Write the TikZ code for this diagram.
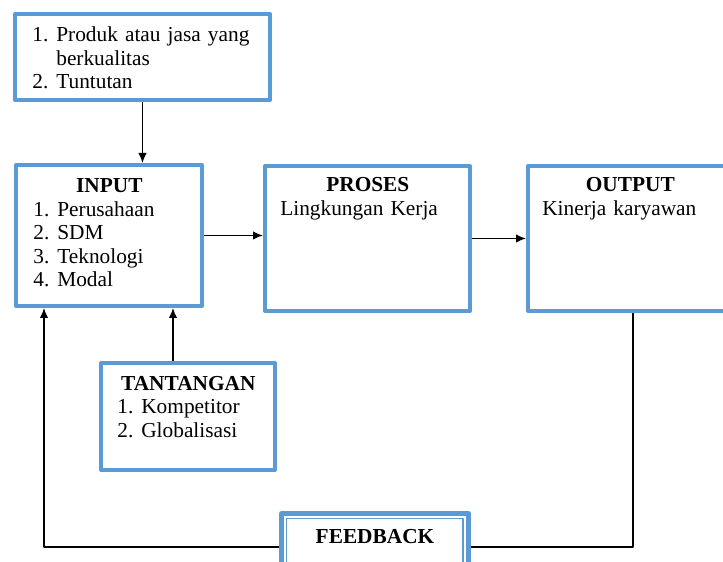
\documentclass[tikz,border=0pt]{standalone}
\usepackage{fontspec}
\setmainfont{Liberation Serif}
\usetikzlibrary{positioning,calc,arrows.meta}
\definecolor{biru}{RGB}{91,155,213}
\tikzset{kotak/.style={draw=biru,line width=2.4pt},
teks/.style={anchor=base west,inner sep=0pt,align=left}}
\newcommand{\no}[1]{\makebox[14.4pt][l]{#1}}
\begin{document}
\begin{tikzpicture}[x=0.6pt,y=-0.6pt,>={Latex[length=6pt,width=5pt]},font=\fontsize{12.8}{14.1}\selectfont,line join=round]
\useasboundingbox (0,0) rectangle (723,562);
\clip (0,0) rectangle (723,562);
% kotak
\node[kotak,minimum width=153pt,minimum height=51.6pt] (tuntut) at (142.5,57) {};
\node[kotak,minimum width=111.6pt,minimum height=84.6pt] (input) at (109,235.5) {};
\node[kotak,minimum width=123pt,minimum height=87pt] (proses) at (367.5,238.5) {};
\node[kotak,minimum width=122.4pt,minimum height=87pt] (output) at (630,238.5) {};
\node[kotak,minimum width=104.4pt,minimum height=64.2pt] (tantangan) at (188,416.5) {};
\node[kotak,line width=3pt,minimum width=112.2pt,minimum height=40.2pt] (feedback) at (375,547) {};
\draw[biru,line width=0.7pt] ([shift={(7.5,7.5)}]feedback.north west) rectangle ([shift={(-8,-7.5)}]feedback.south east);
% teks
\node[teks,text width=138pt] (tuntutteks) at (32,42) {\no{1.}Produk atau jasa yang\par\hspace*{14.4pt}berkualitas\par\no{2.}Tuntutan};
\node[teks,text width=91.2pt] (inputteks) at (33,193) {\centering\textbf{INPUT}\par\raggedright\no{1.}Perusahaan\par\no{2.}SDM\par\no{3.}Teknologi\par\no{4.}Modal};
\node[teks,text width=105pt] (prosesteks) at (280,192) {\centering\textbf{PROSES}\par\raggedright Lingkungan Kerja};
\node[teks,text width=105.6pt] (outputteks) at (542,192) {\centering\textbf{OUTPUT}\par\raggedright Kinerja karyawan};
\node[teks,text width=85.2pt] (tantanganteks) at (117,390) {\centering\makebox[0pt]{\textbf{TANTANGAN}}\par\raggedright\no{1.}Kompetitor\par\no{2.}Globalisasi};
\node[anchor=base,inner sep=0pt] (feedbackteks) at (375,543) {\textbf{FEEDBACK}};
% panah
\draw[->,line width=0.7pt] (tuntut.south) -- (tuntut.south |- input.north);
\draw[->,line width=0.7pt] (input.east) -- (input.east -| proses.west);
\draw[->,line width=0.7pt] (proses.east) -- (output.west);
\draw[->,line width=0.7pt] ([xshift=-9pt]tantangan.north) -- ([xshift=-9pt]tantangan.north |- input.south);
\draw[line width=0.7pt] ([xshift=1.8pt]output.south) |- (feedback.east);
\draw[->,line width=0.7pt] (feedback.west) -| ([xshift=18pt]input.south west);
\end{tikzpicture}
\end{document}
